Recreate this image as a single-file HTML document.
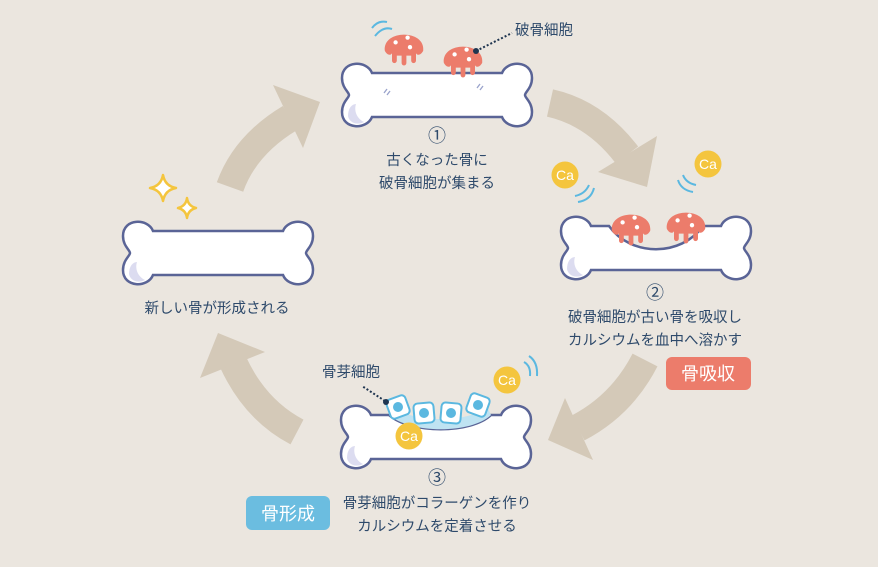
<!DOCTYPE html>
<html><head><meta charset="utf-8"><style>
html,body{margin:0;padding:0;background:#ebe6df;}
svg{display:block}
text{font-family:"Liberation Sans","Noto Sans CJK JP",sans-serif;fill:#2e4a6b;}
</style></head><body>
<svg width="878" height="567" viewBox="0 0 878 567" xmlns="http://www.w3.org/2000/svg">
<rect width="878" height="567" fill="#ebe6df"/>
<defs>
<g id="clast">
<path d="M-16,4 C-18,-14 18,-14 16,4 C14,8 11,8 10,6 L10,12 C10,15 6,15 6,12 L6,8 L2,8 L2,14 C2,17 -2,17 -2,14 L-2,8 L-6,8 L-6,12 C-6,15 -10,15 -10,12 L-10,6 C-11,8 -14,8 -16,4Z" fill="#ec7c6b"/>
<circle cx="-7" cy="-3" r="1.8" fill="#fff"/><circle cx="3" cy="-7" r="1.8" fill="#fff"/><circle cx="5" cy="1" r="1.8" fill="#fff"/>
</g>
<g id="ca"><circle r="13.5" fill="#f4c53e"/><text x="0" y="5" text-anchor="middle" font-size="14" style="fill:#fff">Ca</text></g>
</defs>
<g fill="none" stroke="#d4c9b8" stroke-width="28">
<path d="M230,187 Q245,145 290,118"/>
<path d="M550,103 Q595,113 627,155"/>
<path d="M645,360 Q622,405 578,428"/>
<path d="M297,432 Q255,410 233,362"/>
</g>
<g fill="#d4c9b8">
<polygon points="273,85 320,102 303,148"/>
<polygon points="598,172 657,136 647,187"/>
<polygon points="565,398 548,440 593,460"/>
<polygon points="218,333 265,352 200,378"/>
</g>
<g transform="translate(123,218)">
<path d="M30,13 L160,13 C165,0 190,0 190,18 C190,28 183,32 183,35 C183,38 190,42 190,52 C190,70 165,70 160,57 L30,57 C25,70 0,70 0,52 C0,42 7,38 7,35 C7,32 0,28 0,18 C0,0 25,0 30,13 Z" fill="#fff" stroke="#5a6496" stroke-width="2.5"/>
<path d="M6,56 C6,48 10,44 14,44 C12,50 14,58 22,62 C14,66 7,62 6,56Z" fill="#dcdcf0"/>
</g>
<g fill="#fff" stroke="#f4c53e" stroke-width="2.5" stroke-linejoin="round">
<path d="M163,175 Q165,186 176,188 Q165,190 163,201 Q161,190 150,188 Q161,186 163,175Z"/>
<path d="M187,198 Q188,206 196,208 Q188,210 187,218 Q186,210 178,208 Q186,206 187,198Z"/>
</g>
<g transform="translate(342,60)">
<path d="M30,13 L160,13 C165,0 190,0 190,18 C190,28 183,32 183,35 C183,38 190,42 190,52 C190,70 165,70 160,57 L30,57 C25,70 0,70 0,52 C0,42 7,38 7,35 C7,32 0,28 0,18 C0,0 25,0 30,13 Z" fill="#fff" stroke="#5a6496" stroke-width="2.5"/>
<path d="M6,56 C6,48 10,44 14,44 C12,50 14,58 22,62 C14,66 7,62 6,56Z" fill="#dcdcf0"/>
<g stroke="#9aa3cc" stroke-width="1.3"><line x1="42" y1="33" x2="45" y2="29"/><line x1="45" y1="35" x2="48" y2="31"/><line x1="135" y1="28" x2="138" y2="24"/><line x1="138" y1="30" x2="141" y2="26"/></g>
</g>
<use href="#clast" transform="translate(404,46) scale(1.2)"/>
<use href="#clast" transform="translate(463,58) scale(1.2)"/>
<g fill="none" stroke="#5bb8e0" stroke-width="2"><path d="M372,28 Q378,20 387,22"/><path d="M375,36 Q383,26 392,29"/></g>
<line x1="476" y1="51" x2="512" y2="33" stroke="#1f3550" stroke-width="2" stroke-dasharray="2,2"/>
<circle cx="476" cy="51" r="3" fill="#1f3550"/>
<text x="515" y="35" font-size="14.5">破骨細胞</text>
<text x="437" y="142" font-size="18" text-anchor="middle">①</text>
<text x="437" y="165" font-size="14.5" text-anchor="middle">古くなった骨に</text>
<text x="437" y="188" font-size="14.5" text-anchor="middle">破骨細胞が集まる</text>
<text x="217" y="313" font-size="14.5" text-anchor="middle">新しい骨が形成される</text>
<g transform="translate(561,213)">
<path d="M30,13 L48,13 C70,44 120,44 142,13 L160,13 C165,0 190,0 190,18 C190,28 183,32 183,35 C183,38 190,42 190,52 C190,70 165,70 160,57 L30,57 C25,70 0,70 0,52 C0,42 7,38 7,35 C7,32 0,28 0,18 C0,0 25,0 30,13 Z" fill="#fff" stroke="#5a6496" stroke-width="2.5"/>
<path d="M6,56 C6,48 10,44 14,44 C12,50 14,58 22,62 C14,66 7,62 6,56Z" fill="#dcdcf0"/>
</g>
<use href="#clast" transform="translate(631,226) scale(1.2)"/>
<use href="#clast" transform="translate(686,224) scale(1.2)"/>
<use href="#ca" x="565" y="175"/>
<use href="#ca" x="708" y="164"/>
<g fill="none" stroke="#5bb8e0" stroke-width="2"><path d="M575,196 Q585,194 589,185"/><path d="M578,202 Q591,200 594,188"/><path d="M696,185 Q686,183 683,175"/><path d="M693,192 Q681,190 678,180"/></g>
<text x="655" y="299" font-size="18" text-anchor="middle">②</text>
<text x="655" y="322" font-size="14.5" text-anchor="middle">破骨細胞が古い骨を吸収し</text>
<text x="655" y="345" font-size="14.5" text-anchor="middle">カルシウムを血中へ溶かす</text>
<rect x="666" y="357" width="85" height="33" rx="6" fill="#ec7c6b"/>
<text x="708" y="380" font-size="18" text-anchor="middle" style="fill:#fff">骨吸収</text>
<g transform="translate(341,402)">
<path d="M30,13 L48,13 C70,32 130,32 150,13 L160,13 C165,0 190,0 190,18 C190,28 183,32 183,35 C183,38 190,42 190,52 C190,70 165,70 160,57 L30,57 C25,70 0,70 0,52 C0,42 7,38 7,35 C7,32 0,28 0,18 C0,0 25,0 30,13 Z" fill="#fff" stroke="#5a6496" stroke-width="2.5"/>
<path d="M48,13 C70,32 130,32 150,13 L146,5 C128,21 72,21 52,5Z" fill="#bfe3f2"/>
<path d="M6,56 C6,48 10,44 14,44 C12,50 14,58 22,62 C14,66 7,62 6,56Z" fill="#dcdcf0"/>
</g>
<g stroke="#5bb8e0" stroke-width="2" fill="#fff">
<rect x="388" y="397" width="20" height="20" rx="4" transform="rotate(-20 398 407)"/>
<rect x="414" y="403" width="20" height="20" rx="4" transform="rotate(-5 424 413)"/>
<rect x="441" y="403" width="20" height="20" rx="4" transform="rotate(5 451 413)"/>
<rect x="468" y="395" width="20" height="20" rx="4" transform="rotate(20 478 405)"/>
</g>
<g fill="#5bb8e0"><circle cx="398" cy="407" r="5"/><circle cx="424" cy="413" r="5"/><circle cx="451" cy="413" r="5"/><circle cx="478" cy="405" r="5"/></g>
<use href="#ca" x="409" y="436"/>
<use href="#ca" x="507" y="380"/>
<g fill="none" stroke="#5bb8e0" stroke-width="2"><path d="M524,362 Q531,366 530,376"/><path d="M529,356 Q538,362 537,376"/></g>
<line x1="385" y1="401" x2="362" y2="386" stroke="#1f3550" stroke-width="2" stroke-dasharray="2,2"/>
<circle cx="386" cy="402" r="3" fill="#1f3550"/>
<text x="322" y="377" font-size="14.5">骨芽細胞</text>
<text x="437" y="484" font-size="18" text-anchor="middle">③</text>
<text x="437" y="508" font-size="14.5" text-anchor="middle">骨芽細胞がコラーゲンを作り</text>
<text x="437" y="531" font-size="14.5" text-anchor="middle">カルシウムを定着させる</text>
<rect x="246" y="496" width="84" height="34" rx="6" fill="#6bbde0"/>
<text x="288" y="520" font-size="18" text-anchor="middle" style="fill:#fff">骨形成</text>
</svg>
</body></html>
